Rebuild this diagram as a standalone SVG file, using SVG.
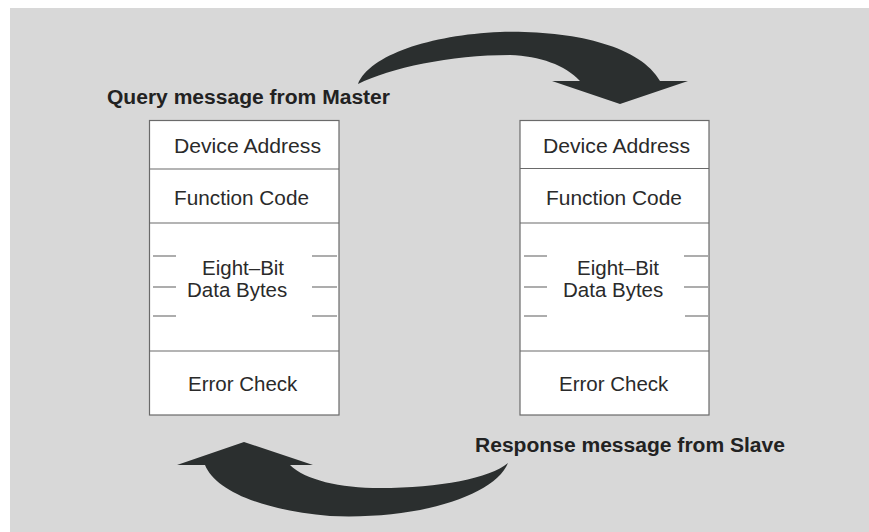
<svg xmlns="http://www.w3.org/2000/svg" width="869" height="532" viewBox="0 0 869 532">
<defs>
<style>
.bg{fill:#d8d8d8}
.box{fill:#ffffff;stroke:#6a6a6a;stroke-width:1.2}
.div{stroke:#6a6a6a;stroke-width:1.2;fill:none}
.dash{stroke:#777;stroke-width:1.2}
.t{font-family:"Liberation Sans",Arial,sans-serif;font-size:20.5px;fill:#2a2a2a}
.title{font-family:"Liberation Sans",Arial,sans-serif;font-size:20px;font-weight:bold;fill:#222}
.arrow{fill:#2b2f2f}
</style>
</defs>
<rect x="0" y="0" width="869" height="532" fill="#ffffff"/>
<rect class="bg" x="10" y="8" width="859" height="524"/>

<g id="query-label"><text class="title" x="107" y="104" textLength="283" lengthAdjust="spacingAndGlyphs">Query message from Master</text></g>
<g id="response-label"><text class="title" x="475" y="452" textLength="310" lengthAdjust="spacingAndGlyphs">Response message from Slave</text></g>

<g id="master-frame">
<rect class="box" x="149.5" y="120.5" width="189.5" height="294.5"/>
<line class="div" x1="149.5" y1="169" x2="339" y2="169"/>
<line class="div" x1="149.5" y1="223" x2="339" y2="223"/>
<line class="div" x1="149.5" y1="351" x2="339" y2="351"/>
<line class="dash" x1="153" y1="256" x2="176" y2="256"/>
<line class="dash" x1="153" y1="287" x2="176" y2="287"/>
<line class="dash" x1="153" y1="316" x2="176" y2="316"/>
<line class="dash" x1="312" y1="256" x2="337" y2="256"/>
<line class="dash" x1="312" y1="287" x2="337" y2="287"/>
<line class="dash" x1="312" y1="316" x2="337" y2="316"/>
<text class="t" x="174" y="153" textLength="147" lengthAdjust="spacingAndGlyphs">Device Address</text>
<text class="t" x="174" y="205" textLength="135" lengthAdjust="spacingAndGlyphs">Function Code</text>
<text class="t" x="202" y="275">Eight–Bit</text>
<text class="t" x="187" y="297">Data Bytes</text>
<text class="t" x="188" y="391">Error Check</text>
</g>

<g id="slave-frame">
<rect class="box" x="520" y="120.5" width="189" height="294.5"/>
<line class="div" x1="520" y1="168.5" x2="709" y2="168.5"/>
<line class="div" x1="520" y1="223" x2="709" y2="223"/>
<line class="div" x1="520" y1="351" x2="709" y2="351"/>
<line class="dash" x1="524" y1="256" x2="547" y2="256"/>
<line class="dash" x1="524" y1="287" x2="547" y2="287"/>
<line class="dash" x1="524" y1="316" x2="547" y2="316"/>
<line class="dash" x1="684" y1="256" x2="708" y2="256"/>
<line class="dash" x1="684" y1="287" x2="708" y2="287"/>
<line class="dash" x1="685" y1="316" x2="708" y2="316"/>
<text class="t" x="543" y="153" textLength="147" lengthAdjust="spacingAndGlyphs">Device Address</text>
<text class="t" x="546" y="205" textLength="136" lengthAdjust="spacingAndGlyphs">Function Code</text>
<text class="t" x="577" y="275">Eight–Bit</text>
<text class="t" x="563" y="297">Data Bytes</text>
<text class="t" x="559" y="391">Error Check</text>
</g>

<g id="connectors">
<path class="arrow" d="M358,84 C370,55 430,35 500,32 C570,30 640,45 660,81 L688,81 L620,104 L552,81 L580,81 C565,65 540,56 510,55 C450,55 390,68 358,84 Z"/>
<path class="arrow" d="M508,463 C490,478 440,488 380,488 C340,488 305,480 290,465 L313,465 L244,442 L177,465 L205,465 C215,490 260,510 330,516 C420,520 495,495 508,463 Z"/>
</g>
</svg>
